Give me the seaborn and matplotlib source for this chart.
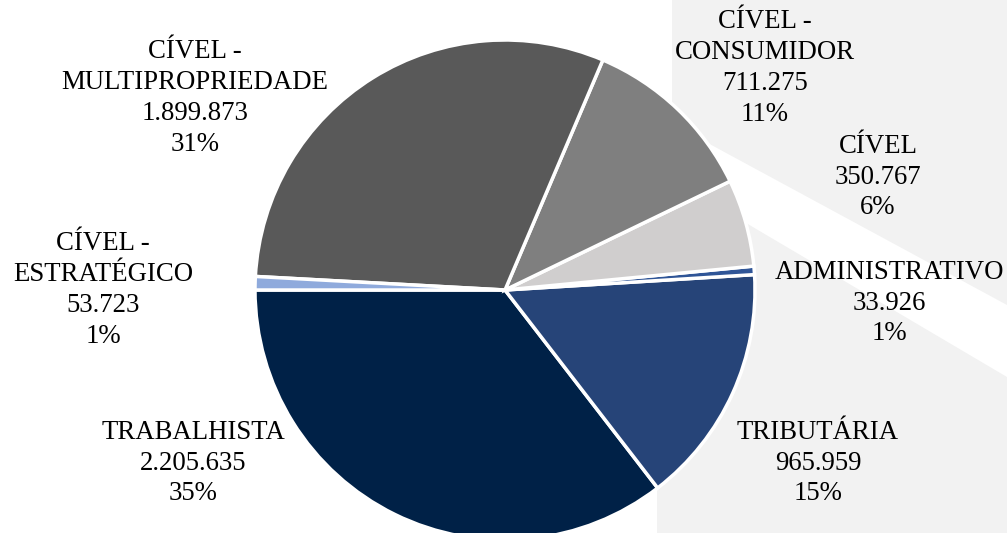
import matplotlib
matplotlib.use("Agg")
import matplotlib.pyplot as plt
import seaborn as sns
from matplotlib.patches import Polygon

# ---- data ----
categories = ["TRABALHISTA", "TRIBUTÁRIA", "ADMINISTRATIVO", "CÍVEL",
              "CÍVEL -\nCONSUMIDOR", "CÍVEL -\nMULTIPROPRIEDADE", "CÍVEL -\nESTRATÉGICO"]
values = [2205635, 965959, 33926, 350767, 711275, 1899873, 53723]
pct_labels = ["35%", "15%", "1%", "6%", "11%", "31%", "1%"]

# ---- styling / layout ----
colors = ["#002147", "#264478", "#2f5597", "#d0cece", "#7f7f7f", "#595959", "#8faadc"]
label_pos = [(-1.248, -0.692), (1.252, -0.692), (1.536, -0.052), (1.492, 0.452),
             (1.04, 0.888), (-1.24, 0.768), (-1.608, 0.0)]

sns.set_theme(style="white")
plt.rcParams["font.family"] = ["Liberation Serif", "DejaVu Serif"]

W, H = 1007, 533
fig = plt.figure(figsize=(W / 100, H / 100), dpi=100)
fig.patch.set_facecolor("white")


def fp(x, y):
    return (x / W, 1 - y / H)


# light grey background region with a white diagonal band (as in reference)
fig.patches.append(Polygon([fp(672, 0), fp(W, 0), fp(W, H), fp(657, H), fp(657, 300), fp(672, 300)],
                           closed=True, transform=fig.transFigure, facecolor="#f2f2f2",
                           edgecolor="none", zorder=-10))
fig.patches.append(Polygon([fp(680, 128), fp(W, 305), fp(W, 377), fp(680, 184)], closed=True,
                           transform=fig.transFigure, facecolor="white", edgecolor="none",
                           zorder=-9))

ax = fig.add_axes([0, 0, 1, 1])
ax.set_zorder(5)
ax.patch.set_alpha(0)

wedges, _ = ax.pie(values, colors=colors, startangle=180, counterclock=True, radius=1,
                   wedgeprops=dict(edgecolor="white", linewidth=2.5))

for cat, v, p, (x, y) in zip(categories, values, pct_labels, label_pos):
    num = f"{v:,}".replace(",", ".")
    ax.text(x, y, f"{cat}\n{num}\n{p}", ha="center", va="center", fontsize=19.3,
            linespacing=1.3, color="black")

ax.set_xlim(-505 / 250, (W - 505) / 250)
ax.set_ylim(-(H - 290) / 250, 290 / 250)
ax.set_aspect("equal")
ax.axis("off")

fig.savefig("out.png", dpi=100)
